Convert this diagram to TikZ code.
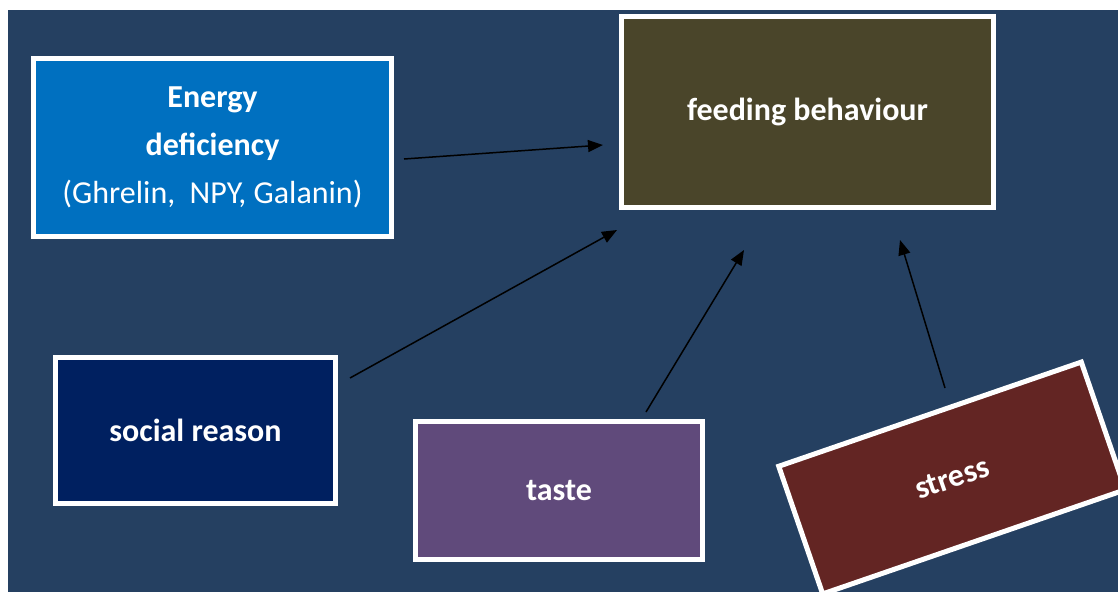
\documentclass[tikz,border=0pt]{standalone}
\usepackage{fontspec}
\setmainfont{Carlito}
\usetikzlibrary{arrows.meta}
\definecolor{bg}{HTML}{254061}
\definecolor{energycol}{HTML}{0070C0}
\definecolor{feedcol}{HTML}{4A452A}
\definecolor{socialcol}{HTML}{002060}
\definecolor{tastecol}{HTML}{604A7B}
\definecolor{stresscol}{HTML}{632523}
\begin{document}
\begin{tikzpicture}[x=1pt,y=-1pt,
  box/.style={draw=white,line width=5pt,inner sep=0pt,text=white,align=center,
    font=\fontsize{32}{48}\selectfont\bfseries},
  conn/.style={line width=1.5pt,draw=black,-{Triangle[length=15pt,width=12pt]}}]
\useasboundingbox (0,0) rectangle (1118,592);
\fill[bg] (8,10) rectangle (1118,592);
\begin{scope}
  \clip (8,10) rectangle (1118,592);
  \node[box,fill=stresscol,minimum width=320pt,minimum height=135pt,rotate=19] (stress) at (952,478) {stress};
\end{scope}
\node[box,fill=energycol,minimum width=358pt,minimum height=178pt] (energy) at (212.5,147.5)
  {Energy\\deficiency\\{\mdseries (Ghrelin,\ \ NPY, Galanin)}};
\node[box,fill=feedcol,minimum width=372pt,minimum height=191pt] (feed) at (807.5,112) {feeding behaviour};
\node[box,fill=socialcol,minimum width=280pt,minimum height=146pt] (social) at (195.5,430.5) {social reason};
\node[box,fill=tastecol,minimum width=287pt,minimum height=138pt] (taste) at (559,490.5) {taste};
\coordinate (e1) at (404,159);
\coordinate (f1) at (603,145);
\coordinate (s1) at (350,378);
\coordinate (f2) at (617,230);
\coordinate (t1) at (646,412);
\coordinate (f3) at (744,250);
\coordinate (r1) at (945,388);
\coordinate (f4) at (900,240);
\draw[conn] (e1) -- (f1);
\draw[conn] (s1) -- (f2);
\draw[conn] (t1) -- (f3);
\draw[conn] (r1) -- (f4);
\end{tikzpicture}
\end{document}
